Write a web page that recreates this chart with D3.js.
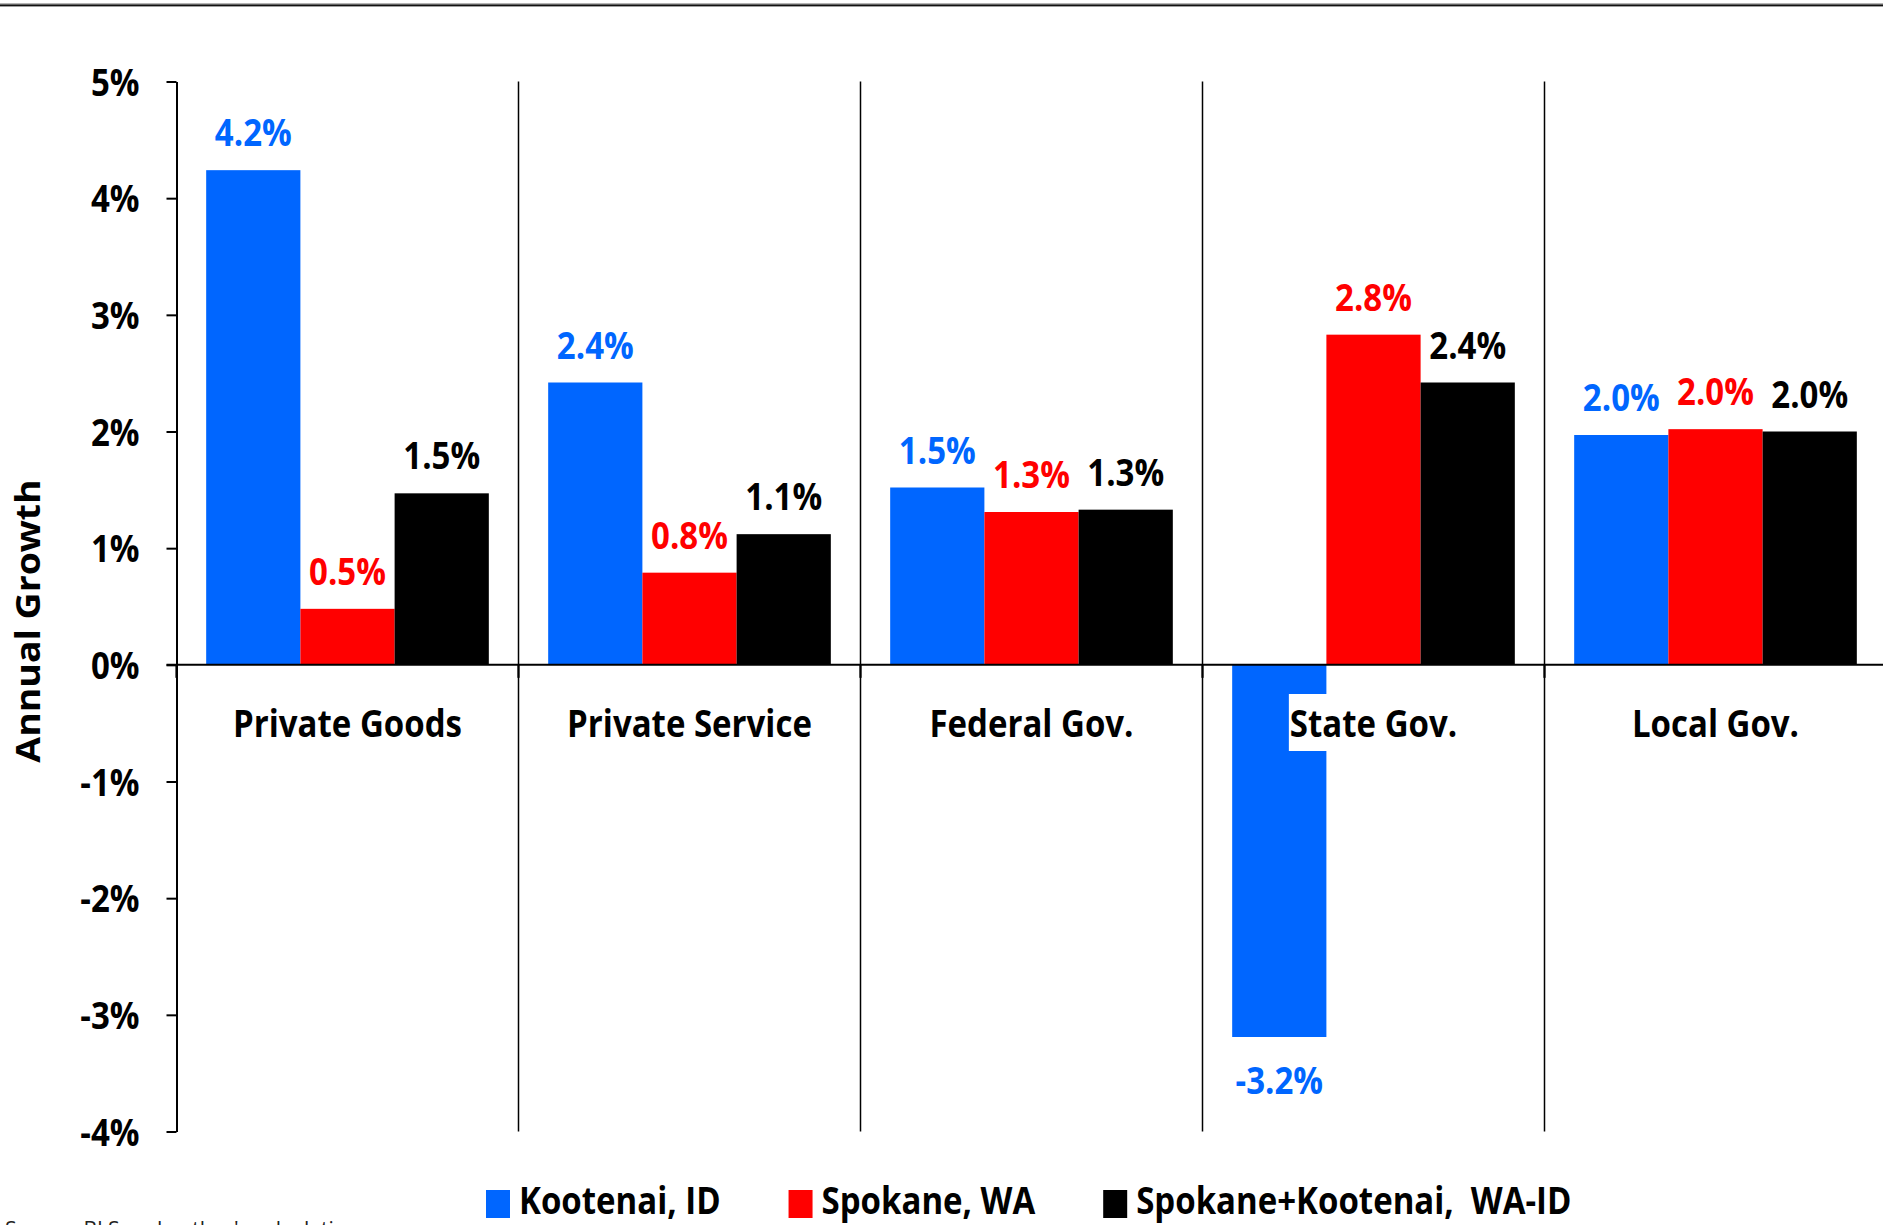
<!DOCTYPE html>
<html lang="en">
<head>
<meta charset="UTF-8">
<title>Annual Growth by Sector</title>
<style>
  body { margin: 0; background: #fff; overflow: hidden; }
  svg { display: block; }
  text { font-family: "Open Sans", "Noto Sans", sans-serif; font-weight: 700; white-space: pre; }
  .axis path, .axis line { stroke: #000; }
</style>
</head>
<body>
<svg></svg>
<script src="https://cdnjs.cloudflare.com/ajax/libs/d3/7.8.5/d3.min.js"></script>
<script>

// data
const categories = ['Private Goods', 'Private Service', 'Federal Gov.', 'State Gov.', 'Local Gov.'];
const seriesNames = ['Kootenai, ID', 'Spokane, WA', 'Spokane+Kootenai,  WA-ID'];
const kootenai = [4.24, 2.42, 1.52, -3.19, 1.97];
const spokane  = [0.48, 0.79, 1.31, 2.83, 2.02];
const combined = [1.47, 1.12, 1.33, 2.42, 2.00];
const seriesColors = ['#0066ff', '#ff0000', '#000000'];
const yTicks = [-4, -3, -2, -1, 0, 1, 2, 3, 4, 5];
const sourceNote = "Source: BLS and author's calculations";

const W = 1883, H = 1225;
const FS = 33;      // font size for chart text
const SY = 1.15;    // the original picture is a little stretched vertically

const svg = d3.select('svg').attr('width', W).attr('height', H);

const seriesValues = [kootenai, spokane, combined];

const y = d3.scaleLinear().domain([-4, 5]).range([1131.5, 81.5]);
const x0 = d3.scaleBand().domain(categories).range([176.5, 1886.5]);
const x1 = d3.scaleBand().domain(d3.range(seriesNames.length))
    .range([0, x0.bandwidth()]).paddingOuter(0.315);

function stretch(sel, xf, yf) {
    return sel.attr('transform', (d, i) => `translate(${xf(d, i)},${yf(d, i)}) scale(1,${SY})`);
}

// border line at top
svg.append('rect').attr('x', 0).attr('y', 3).attr('width', W).attr('height', 1.4).attr('fill', '#b5b5b5');
svg.append('rect').attr('x', 0).attr('y', 4.4).attr('width', W).attr('height', 2).attr('fill', '#111');

// vertical separators between categories
svg.append('g').selectAll('line')
    .data(categories.slice(1))
    .join('line')
    .attr('x1', d => x0(d)).attr('x2', d => x0(d))
    .attr('y1', y(5)).attr('y2', y(-4))
    .attr('stroke', '#000').attr('stroke-width', 1.5);

// bars
const groups = svg.append('g').selectAll('g')
    .data(categories)
    .join('g')
    .attr('transform', d => `translate(${x0(d)},0)`);

groups.selectAll('rect')
    .data((c, ci) => seriesValues.map((vals, si) => ({ si, v: vals[ci] })))
    .join('rect')
    .attr('x', d => x1(d.si))
    .attr('width', x1.bandwidth())
    .attr('y', d => y(Math.max(0, d.v)))
    .attr('height', d => Math.abs(y(d.v) - y(0)))
    .attr('fill', d => seriesColors[d.si]);

// y axis
const yAxis = svg.append('g')
    .attr('class', 'axis')
    .attr('transform', `translate(${x0.range()[0]},0)`)
    .call(d3.axisLeft(y).tickValues(yTicks).tickSize(10).tickSizeOuter(0).tickPadding(27)
        .tickFormat(d => d + '%'));
yAxis.select('.domain').attr('stroke-width', 2);
yAxis.selectAll('.tick line').attr('stroke-width', 2);
yAxis.selectAll('text')
    .attr('font-size', FS).attr('fill', '#000')
    .attr('dy', '0.36em')
    .attr('transform', `scale(1,${SY})`)
    .style('font-family', '"Open Sans", sans-serif').style('font-weight', 700);

// category axis along zero
const xa = svg.append('g').attr('class', 'axis');
xa.append('line')
    .attr('x1', x0.range()[0] - 10).attr('x2', x0.range()[1])
    .attr('y1', y(0)).attr('y2', y(0))
    .attr('stroke-width', 2);
xa.selectAll('.xtick')
    .data(categories.concat(['end']))
    .join('line')
    .attr('class', 'xtick')
    .attr('x1', d => d === 'end' ? x0.range()[1] : x0(d))
    .attr('x2', d => d === 'end' ? x0.range()[1] : x0(d))
    .attr('y1', y(0)).attr('y2', y(0) + 13)
    .attr('stroke-width', 2.2);

// category labels with white boxes
const catLabels = svg.append('g').selectAll('g')
    .data(categories)
    .join('g');
stretch(catLabels, d => x0(d) + x0.bandwidth() / 2, () => 737);
catLabels.append('text')
    .attr('text-anchor', 'middle')
    .attr('font-size', FS)
    .attr('fill', '#000')
    .text(d => d);
catLabels.each(function () {
    const g = d3.select(this);
    const bb = g.select('text').node().getBBox();
    g.insert('rect', 'text')
        .attr('x', bb.x - 1).attr('width', bb.width + 2)
        .attr('y', -43 / SY).attr('height', 57 / SY)
        .attr('fill', '#fff');
});

// value labels
const valLabels = groups.selectAll('text')
    .data((c, ci) => seriesValues.map((vals, si) => ({ si, v: vals[ci] })))
    .join('text')
    .attr('text-anchor', 'middle')
    .attr('font-size', FS)
    .attr('fill', d => seriesColors[d.si])
    .text(d => d.v.toFixed(1) + '%');
stretch(valLabels, d => x1(d.si) + x1.bandwidth() / 2, d => d.v >= 0 ? y(d.v) - 24 : y(d.v) + 57);

// y axis title
svg.append('text')
    .attr('transform', `translate(40,621) rotate(-90) scale(1.1,1)`)
    .attr('text-anchor', 'middle')
    .attr('font-size', 34)
    .attr('fill', '#000')
    .text('Annual Growth');

// legend
const legend = svg.append('g');
let lx = 486;
seriesNames.forEach((name, i) => {
    legend.append('rect')
        .attr('x', lx).attr('y', 1190)
        .attr('width', 24).attr('height', 28)
        .attr('fill', seriesColors[i]);
    const t = legend.append('text')
        .attr('transform', `translate(${lx + 33},1214) scale(1,${SY})`)
        .attr('font-size', FS)
        .attr('fill', '#000')
        .text(name);
    lx += 33 + t.node().getComputedTextLength() + 68;
});

// source note, cut off by the bottom edge as in the original
svg.append('text')
    .attr('x', 5).attr('y', 1237)
    .attr('font-size', 21)
    .style('font-weight', 400)
    .attr('fill', '#222')
    .text(sourceNote);

</script>
</body>
</html>
